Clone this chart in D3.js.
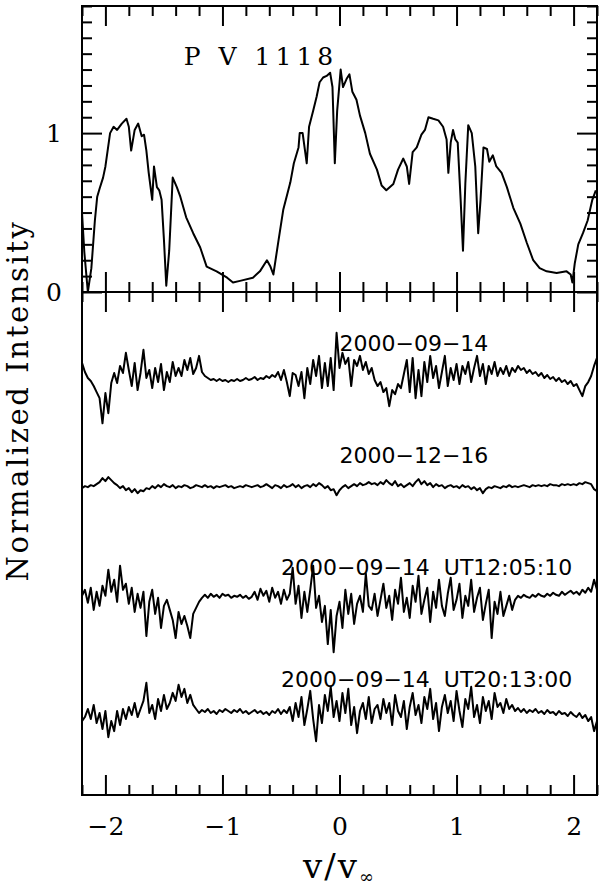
<!DOCTYPE html>
<html>
<head>
<meta charset="utf-8">
<script src="https://cdn.jsdelivr.net/npm/d3@7"></script>
<style>
  body { margin: 0; background: #fff; }
  svg { display: block; }
</style>
</head>
<body>
<div id="chart-area"></div>
<script>
// ---- data ----
var title = "P V 1118";
var xLabel = "v/v";
var yLabel = "Normalized Intensity";
var xMajorTicks = [-2, -1, 0, 1, 2];
var yTopMajorTicks = [0, 1];

// top panel: mean line profile
var profileV = [-2.2, -2.18, -2.15, -2.12, -2.09, -2.07, -2.05, -2.02, -2.0, -1.96, -1.93, -1.9, -1.86, -1.82, -1.8,
  -1.78, -1.75, -1.72, -1.69, -1.67, -1.65, -1.63, -1.6, -1.585, -1.56, -1.54, -1.52, -1.5, -1.48, -1.455, -1.425,
  -1.39, -1.36, -1.31, -1.25, -1.19, -1.135, -1.05, -0.96, -0.91, -0.85, -0.74, -0.68, -0.62, -0.59, -0.565, -0.52,
  -0.48, -0.42, -0.39, -0.35, -0.34, -0.315, -0.28, -0.26, -0.225, -0.195, -0.17, -0.14, -0.11, -0.08, -0.06, -0.04,
  -0.02, 0.01, 0.03, 0.06, 0.085, 0.11, 0.145, 0.175, 0.22, 0.26, 0.32, 0.36, 0.4, 0.46, 0.5, 0.545, 0.575, 0.595,
  0.625, 0.66, 0.7, 0.73, 0.76, 0.8, 0.845, 0.885, 0.915, 0.93, 0.95, 0.97, 0.99, 1.01, 1.035, 1.055, 1.075, 1.1,
  1.13, 1.16, 1.185, 1.205, 1.23, 1.26, 1.28, 1.31, 1.34, 1.385, 1.43, 1.485, 1.545, 1.6, 1.655, 1.71, 1.77, 1.855,
  1.94, 1.975, 1.99, 2.01, 2.04, 2.08, 2.12, 2.16, 2.19];
var profileI = [0.5, 0.25, 0.0, 0.15, 0.45, 0.6, 0.65, 0.72, 0.79, 1.0, 1.04, 1.02, 1.06, 1.09, 1.04,
  0.89, 1.02, 1.06, 0.98, 0.99, 0.89, 0.75, 0.58, 0.79, 0.66, 0.64, 0.58, 0.33, 0.04, 0.26, 0.72,
  0.66, 0.6, 0.47, 0.37, 0.28, 0.16, 0.13, 0.09, 0.06, 0.07, 0.09, 0.13, 0.2, 0.16, 0.11, 0.33,
  0.52, 0.69, 0.81, 0.91, 1.0, 1.0, 0.81, 1.04, 1.14, 1.23, 1.32, 1.35, 1.36, 1.38, 1.29, 0.81,
  1.14, 1.4, 1.29, 1.34, 1.37, 1.26, 1.21, 1.11, 1.0, 0.87, 0.77, 0.67, 0.64, 0.68, 0.77, 0.84, 0.79, 0.68,
  0.88, 0.91, 0.99, 1.02, 1.1, 1.09, 1.08, 1.04, 0.96, 0.75, 0.94, 1.02, 0.96, 0.94, 0.58, 0.26, 0.68, 1.05,
  1.0, 0.79, 0.37, 0.58, 0.91, 0.9, 0.82, 0.86, 0.79, 0.75, 0.66, 0.53, 0.43, 0.31, 0.2, 0.15, 0.13, 0.12,
  0.13, 0.11, 0.06, 0.18, 0.3, 0.37, 0.45, 0.58, 0.64];

// bottom panel: residual spectra, sampled every 0.025 from -2.2
var traceStart = -2.2;
var traceStep = 0.025;
var traceNames = ["2000\u221209\u221214", "2000\u221212\u221216",
  "2000\u221209\u221214  UT12:05:10", "2000\u221209\u221214  UT20:13:00"];
var traceOffsets = [4.145, 3.07, 1.96, 0.795];
// deviations from each offset, in units of 0.01
var trace1 = [15, 6, 0, -3, -8, -14, -20, -45, -15, -35,
  -5, 5, -5, 12, 5, 25, 8, -8, 15, -12,
  5, 28, 0, 8, -10, 10, -4, 14, -12, 6,
  -4, 16, 2, 10, 2, 18, 8, 20, 4, 10,
  22, 6, 2, 0, -2, -1, -3, -1, -3, -2,
  -4, -2, -3, -1, -3, -2, 0, -2, -1, 1,
  -2, 0, -1, 2, 0, 3, 1, 6, -2, 8,
  -4, -18, 5, 3, -8, 6, -20, 10, -6, 18,
  2, 22, -10, 15, -8, 20, -12, 45, 10, 25,
  14, 20, -8, 18, 12, 22, 8, 16, 4, 10,
  -2, -8, -4, -14, -10, -28, -12, -16, -6, -10,
  4, 18, -14, 20, -20, 8, -18, 16, -4, 22,
  0, 12, -10, 6, 22, -8, 10, -2, 14, -6,
  12, 4, 16, -4, 10, 22, 2, 14, -6, 12,
  4, 16, 2, 10, 4, 12, 2, 10, 6, 12,
  8, 10, 5, 8, 4, 6, 2, 5, 0, 3,
  -1, 1, -3, 0, -4, -2, -6, -3, -8, -6,
  -12, -18, -8, -4, 2, 12, 20];
var trace2 = [-2, 0, -1, 1, 0, 2, 4, 8, 5, 9, 6, 3,
  1, -2, 0, -4, -2, -6, -3, -7, -4, -5, -2, -3,
  0, -2, 1, -1, 2, 0, -1, 1, -2, 0, -1, 1,
  0, -2, -1, 1, 0, -1, 1, -1, 0, -2, 0, -1,
  0, 1, -1, 0, -2, -1, 0, -1, 1, 0, -1, 0,
  1, -1, 0, 2, 0, -2, 1, 0, -2, 1, -1, 0,
  2, -1, 1, -2, 0, 1, -1, 2, 0, 3, 1, -2,
  0, -4, -3, -9, -4, -1, 1, -2, 0, 2, 0, 3,
  1, 2, 4, 2, 3, 1, 4, 2, 6, 3, 1, 5,
  0, 2, -1, 1, 3, 0, 4, 7, 2, 5, 1, 3,
  -1, 2, 0, 1, -2, 0, 1, -1, 0, -2, 1, -1,
  0, -3, -1, -4, -2, -7, -3, -1, -2, 0, -1, -2,
  0, -1, 1, -1, 0, -1, 0, 1, 0, -1, 1, 0,
  1, 0, 1, 0, 2, 1, 1, 0, 2, 1, 2, 1,
  2, 1, 3, 2, 4, 3, 2, -3, -5];
var trace3 = [2, 8, -5, 10, -12, 6, -8, 12,
  2, 28, 6, 18, -4, 32, 8,
  14, -6, 10, -14, 4, -10, 6, -38, -4, 8, -16, 0, -30, -8, -2,
  -12, -22, -40, -14, -26, -18, -28, -40, -16, -10,
  -4, 0, 3, 0, 4, 1, 3, 0, 4, 2, 3, 0, 2, 1, 3, 0, 2, -1, 1,
  6, -2, 9, 2, 7, -4, 10, 0, 6, -6, 8, -2,
  4, 30, -6, 12, -20, 6, -14, 8, 32, -10, 2, -24, -8, -46, -12, -54, -18, -4, -30, 8, -16, 4, -26, -6, 2, -14, 24, -8,
  -12, 4, -18, -2, 14, -10, 2, -22, 8, -6, 20, -14, 0, -20, 12, -4, 22, -16, -2, 10, -24, 6, -10, 18, -8,
  -18, 4, 20, -12, -2, 14, -20, 2, -8, 18, -14, 0, 10, -22, -6, 8, -40, -4, -16, 6, -18, -8, 2, -12,
  -2, 2, 0, 3, 1, 0, 3, 1, 4, 2, 1, 4, 2, 5, 3, 2, 6, 3, 5, 7, 4, 6, 3, 8, 5, 10, 6, 18, 8];
var trace4 = [-6, -2, 6, -4, 10, -8, 2, -14, 4, -22, -6, -16,
  4, -10, 6, -4, 8, 0, 12, -2, 6, 14, 32, 2, 10, -4, 16, 4, 20, 6, 12,
  22, 14, 30, 18, 26, 12, 20, 10, 6,
  2, 5, 3, 6, 2, 4, 1, 5, 3, 6, 4, 2, 5, 3, 6, 2, 4, 1, 3, 5, 2, 4, 1, 3, 0, 4, 2, 6, 1, 5, 2,
  8, -6, 12, -2, 18, -10, 6, 24, -4, -26, 10, -8, 20, 4, 28, -2, 14, -6, 22, 2, 26, -10, 8, -18, 4, 12, -4, 18, -8, 6,
  10, -4, 16, 2, 12, -10, 20, 4, -2, 14, -14, 8, 22, 0, 10, -8, 18, 6, 26, -4, 12, -16, 8, 20,
  2, 14, -6, 24, 4, -12, 16, 6, 28, -2, 10, -8, 18, 4, 14, -4, 22, 8, 12, 2, 16, 6, 10,
  4, 7, 3, 6, 2, 5, 3, 6, 2, 4, 1, 5, 2, 3, 0, 4, 1, 2, -1, 3, 0, -2, 2, -3, 0, -6, -2, -16, -6];

var traces = [trace1, trace2, trace3, trace4];

// ---- layout ----
var width = 600, height = 889;
var margins = { left: 82, right: 597, top: 6, split: 292, bottom: 795 };

var svg = d3.select("#chart-area")
    .append("svg")
    .attr("width", width)
    .attr("height", height);

var x = d3.scaleLinear().domain([-2.2, 2.2]).range([margins.left, margins.right]);
var yTop = d3.scaleLinear().domain([0, 1.8]).range([margins.split, margins.top]);
var yBot = d3.scaleLinear().domain([0, 5]).range([margins.bottom, margins.split]);

var serif = "'DejaVu Serif', serif";
var sans = "'DejaVu Sans', sans-serif";

svg.append("clipPath").attr("id", "clipTop")
    .append("rect")
    .attr("x", margins.left).attr("y", margins.top)
    .attr("width", margins.right - margins.left).attr("height", margins.split - margins.top);
svg.append("clipPath").attr("id", "clipBot")
    .append("rect")
    .attr("x", margins.left).attr("y", margins.split)
    .attr("width", margins.right - margins.left).attr("height", margins.bottom - margins.split);

// ticks helper: only tick lines, no domain path, no labels
function tickRow(axisFn, scale, values, size, tx, ty)
{
    svg.append("g")
        .attr("transform", "translate(" + tx + "," + ty + ")")
        .call(axisFn(scale).tickValues(values).tickSize(size).tickFormat(""))
        .call(function(g){
            g.select(".domain").remove();
            g.selectAll(".tick line").attr("stroke", "#000").attr("stroke-width", 2);
        });
}

var xMinor = x.ticks(22).filter(function(d){ return xMajorTicks.indexOf(Math.round(d * 10) / 10) < 0; });
var yMinor = yTop.ticks(18).filter(function(d){ return yTopMajorTicks.indexOf(Math.round(d * 10) / 10) < 0; });

// top panel ticks
tickRow(d3.axisTop, x, xMajorTicks, 20, 0, margins.split);
tickRow(d3.axisTop, x, xMinor, 10, 0, margins.split);
tickRow(d3.axisBottom, x, xMajorTicks, 20, 0, margins.top);
tickRow(d3.axisBottom, x, xMinor, 10, 0, margins.top);
tickRow(d3.axisRight, yTop, yTopMajorTicks, 20, margins.left, 0);
tickRow(d3.axisRight, yTop, yMinor, 10, margins.left, 0);
tickRow(d3.axisLeft, yTop, yTopMajorTicks, 20, margins.right, 0);
tickRow(d3.axisLeft, yTop, yMinor, 10, margins.right, 0);

// bottom panel ticks
tickRow(d3.axisBottom, x, xMajorTicks, 20, 0, margins.split);
tickRow(d3.axisBottom, x, xMinor, 10, 0, margins.split);
tickRow(d3.axisTop, x, xMajorTicks, 20, 0, margins.bottom);
tickRow(d3.axisTop, x, xMinor, 10, 0, margins.bottom);

// frames
svg.append("rect")
    .attr("x", margins.left).attr("y", margins.top)
    .attr("width", margins.right - margins.left).attr("height", margins.bottom - margins.top)
    .attr("fill", "none").attr("stroke", "#000").attr("stroke-width", 2);
svg.append("line")
    .attr("x1", margins.left).attr("x2", margins.right)
    .attr("y1", margins.split).attr("y2", margins.split)
    .attr("stroke", "#000").attr("stroke-width", 2);

// tick labels
svg.append("g")
    .attr("transform", "translate(0," + margins.bottom + ")")
    .call(d3.axisBottom(x).tickValues(xMajorTicks).tickSize(0).tickPadding(22).tickFormat(d3.format("d")))
    .call(function(g){
        g.select(".domain").remove();
        g.selectAll("text").attr("font-family", serif).attr("font-size", 25).attr("fill", "#000");
    });

svg.append("g")
    .attr("transform", "translate(" + margins.left + ",0)")
    .call(d3.axisLeft(yTop).tickValues(yTopMajorTicks).tickSize(0).tickPadding(20).tickFormat(d3.format("d")))
    .call(function(g){
        g.select(".domain").remove();
        g.selectAll("text").attr("font-family", serif).attr("font-size", 25).attr("fill", "#000");
    });

// top profile
var profile = profileV.map(function(v, i){ return {v: v, y: profileI[i]}; });
svg.append("path")
    .datum(profile)
    .attr("clip-path", "url(#clipTop)")
    .attr("fill", "none")
    .attr("stroke", "#000")
    .attr("stroke-width", 2)
    .attr("stroke-linejoin", "round")
    .attr("d", d3.line()
        .x(function(d){ return x(d.v); })
        .y(function(d){ return yTop(d.y); }));

// residual traces
var traceLine = d3.line()
    .x(function(d){ return x(d.v); })
    .y(function(d){ return yBot(d.y); });

traces.forEach(function(t, k){
    var pts = t.map(function(dev, i){
        return {v: traceStart + i * traceStep, y: traceOffsets[k] + dev / 100};
    });
    svg.append("path")
        .datum(pts)
        .attr("clip-path", "url(#clipBot)")
        .attr("fill", "none")
        .attr("stroke", "#000")
        .attr("stroke-width", 2)
        .attr("stroke-linejoin", "round")
        .attr("d", traceLine);
});

// trace labels
var labelAt = [{v: 0, dy: 0.27}, {v: 0, dy: 0.23}, {v: -0.5, dy: 0.23}, {v: -0.5, dy: 0.28}];
traceNames.forEach(function(name, k){
    svg.append("text")
        .attr("x", x(labelAt[k].v))
        .attr("y", yBot(traceOffsets[k] + labelAt[k].dy))
        .attr("font-family", sans)
        .attr("font-size", 22)
        .style("white-space", "pre")
        .text(name);
});

// title
svg.append("text")
    .attr("x", x(-1.33))
    .attr("y", yTop(1.43))
    .attr("font-family", serif)
    .attr("font-size", 25)
    .attr("letter-spacing", 5)
    .text(title);

// axis titles
var xt = svg.append("text")
    .attr("x", x(0))
    .attr("y", 878)
    .attr("text-anchor", "middle")
    .attr("font-family", serif)
    .attr("font-size", 34)
    .attr("letter-spacing", 2);
xt.append("tspan").text(xLabel);
xt.append("tspan").attr("font-size", 18).attr("dy", 5).text("\u221e");

svg.append("text")
    .attr("transform", "translate(28," + ((margins.top + margins.bottom) / 2) + ") rotate(-90)")
    .attr("text-anchor", "middle")
    .attr("font-family", serif)
    .attr("font-size", 29)
    .attr("letter-spacing", 2.6)
    .text(yLabel);
</script>
</body>
</html>
